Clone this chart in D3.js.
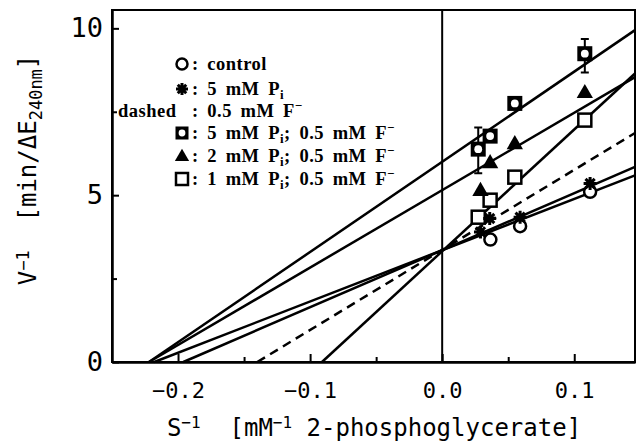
<!DOCTYPE html>
<html>
<head>
<meta charset="utf-8">
<script src="https://cdn.jsdelivr.net/npm/d3@7"></script>
<style>
  body { margin: 0; background: #fff; }
  svg { display: block; }
  text { white-space: pre; }
  .mono { font-family: "DejaVu Sans Mono", monospace; }
  .legend text { font-family: "Liberation Serif", "Times New Roman", serif; font-weight: bold; font-size: 18.5px; letter-spacing: 0.5px; word-spacing: 3.5px; }
</style>
</head>
<body>
<svg></svg>
<script>
// reciprocal substrate (1/S) and reciprocal velocity (1/V) for each series
let ctrlS = [0.0365, 0.059, 0.112];
let ctrlV = [3.67, 4.07, 5.1];
let pi5S = [0.029, 0.036, 0.059, 0.112];
let pi5V = [3.9, 4.3, 4.34, 5.35];
let pi5fS = [0.0273, 0.0363, 0.055, 0.108];
let pi5fV = [6.38, 6.77, 7.75, 9.24];
let pi5fLow = [5.66, null, null, 8.68];
let pi5fHigh = [7.03, null, null, 9.68];
let pi2fS = [0.029, 0.0363, 0.055, 0.108];
let pi2fV = [5.15, 5.98, 6.55, 8.08];
let pi1fS = [0.0273, 0.0363, 0.055, 0.108];
let pi1fV = [4.34, 4.85, 5.54, 7.25];

// fitted lines: x-intercept (V^-1 = 0) and y-intercept (S^-1 = 0)
let fitNames = ["control", "5 mM Pi", "0.5 mM F", "5 mM Pi; F", "2 mM Pi; F", "1 mM Pi; F"];
let fitXInt = [-0.218, -0.196, -0.14, -0.222, -0.222, -0.091];
let fitYInt = [3.35, 3.35, 3.36, 6.0, 5.15, 3.32];
let fitDashed = [false, false, true, false, false, false];

let xMajor = [-0.2, -0.1, 0.0, 0.1];
let xMinor = [-0.15, -0.05, 0.05];
let yMajor = [0, 5, 10];
let yMinor = [2.5, 7.5];

let width = 643;
let height = 443;
let padLeft = 112, padRight = 635, padTop = 10, padBottom = 362;

let svg = d3.select("svg")
    .attr("width", width)
    .attr("height", height);

let xScale = d3.scaleLinear()
    .domain([-0.25, 0.146])
    .range([padLeft, padRight]);

let yScale = d3.scaleLinear()
    .domain([0, 10.55])
    .range([padBottom, padTop]);

// frame
svg.append("rect")
    .attr("x", padLeft)
    .attr("y", padTop)
    .attr("width", padRight - padLeft)
    .attr("height", padBottom - padTop)
    .attr("fill", "none")
    .attr("stroke", "#000")
    .attr("stroke-width", 2);

// vertical line at S^-1 = 0
svg.append("line")
    .attr("x1", xScale(0)).attr("x2", xScale(0))
    .attr("y1", yScale(0)).attr("y2", padTop)
    .attr("stroke", "#000")
    .attr("stroke-width", 2);

// axes, ticks pointing inward
let xAxis = d3.axisBottom(xScale)
    .tickValues(xMajor)
    .tickSize(-8)
    .tickSizeOuter(0)
    .tickPadding(20)
    .tickFormat(d3.format(".1f"));
let xAxisMinor = d3.axisBottom(xScale)
    .tickValues(xMinor)
    .tickSize(-5)
    .tickSizeOuter(0)
    .tickFormat("");
let yAxis = d3.axisLeft(yScale)
    .tickValues(yMajor)
    .tickSize(-7)
    .tickSizeOuter(0)
    .tickPadding(9);
let yAxisMinor = d3.axisLeft(yScale)
    .tickValues(yMinor)
    .tickSize(-5)
    .tickSizeOuter(0)
    .tickFormat("");

function styleAxis(g, size) {
    g.select(".domain").attr("stroke-width", 2);
    g.selectAll(".tick line").attr("stroke-width", 2);
    g.selectAll(".tick text")
        .attr("class", "mono")
        .attr("fill", "#000")
        .style("font-size", size + "px");
}

svg.append("g")
    .attr("transform", "translate(0, " + padBottom + ")")
    .call(xAxis)
    .call(g => styleAxis(g, 22));
svg.append("g")
    .attr("transform", "translate(0, " + padBottom + ")")
    .call(xAxisMinor)
    .call(g => styleAxis(g, 22));
svg.append("g")
    .attr("transform", "translate(" + padLeft + ", 0)")
    .call(yAxis)
    .call(g => styleAxis(g, 27));
svg.append("g")
    .attr("transform", "translate(" + padLeft + ", 0)")
    .call(yAxisMinor)
    .call(g => styleAxis(g, 27));

// axis titles
let xTitle = svg.append("text")
    .attr("class", "mono")
    .attr("x", 374)
    .attr("y", 436)
    .attr("text-anchor", "middle")
    .style("font-size", "24px");
xTitle.append("tspan").text("S");
xTitle.append("tspan").attr("dy", -8).style("font-size", "16px").text("−1");
xTitle.append("tspan").attr("dy", 8).text("  [mM");
xTitle.append("tspan").attr("dy", -8).style("font-size", "16px").text("−1");
xTitle.append("tspan").attr("dy", 8).text(" 2-phosphoglycerate]");

let yTitle = svg.append("text")
    .attr("class", "mono")
    .attr("transform", "translate(36, 170) rotate(-90)")
    .attr("text-anchor", "middle")
    .style("font-size", "24px");
yTitle.append("tspan").text("V");
yTitle.append("tspan").attr("dy", -7).style("font-size", "17px").text("−1");
yTitle.append("tspan").attr("dy", 7).text("  [min/ΔE");
yTitle.append("tspan").attr("dy", 6).style("font-size", "17px").text("240nm");
yTitle.append("tspan").attr("dy", -6).text("]");

// fitted lines, from the x-intercept to the right edge of the frame
let xEnd = xScale.domain()[1];
let fits = fitNames.map((name, i) => {
    let slope = fitYInt[i] / -fitXInt[i];
    return {
        name: name,
        dashed: fitDashed[i],
        pts: [[fitXInt[i], 0], [xEnd, fitYInt[i] + slope * xEnd]]
    };
});
let line = d3.line()
    .x(d => xScale(d[0]))
    .y(d => yScale(d[1]));
svg.append("g")
    .selectAll("path")
    .data(fits)
    .enter()
    .append("path")
    .attr("d", d => line(d.pts))
    .attr("fill", "none")
    .attr("stroke", "#000")
    .attr("stroke-width", 2.5)
    .attr("stroke-dasharray", d => d.dashed ? "9,6" : null);

// marker shapes
let asterisk = {
    draw(ctx, size) {
        let r = Math.sqrt(size) / 2;
        for (let k = 0; k < 4; k++) {
            let a = k * Math.PI / 4;
            ctx.moveTo(-r * Math.cos(a), -r * Math.sin(a));
            ctx.lineTo(r * Math.cos(a), r * Math.sin(a));
        }
    }
};

function drawCircle(g, x, y, r) {
    g.append("circle").attr("cx", x).attr("cy", y).attr("r", r)
        .attr("fill", "#fff").attr("stroke", "#000").attr("stroke-width", 2.5);
}
function drawStar(g, x, y, s) {
    g.append("path").attr("d", d3.symbol(asterisk, s * s)())
        .attr("transform", "translate(" + x + "," + y + ")")
        .attr("stroke", "#000").attr("stroke-width", 3);
}
function drawDotSquare(g, x, y, s) {
    g.append("rect").attr("x", x - s / 2).attr("y", y - s / 2)
        .attr("width", s).attr("height", s).attr("fill", "#000");
    g.append("circle").attr("cx", x).attr("cy", y).attr("r", s * 0.26).attr("fill", "#fff");
}
function drawTriangle(g, x, y, s) {
    g.append("path")
        .attr("d", d3.symbol(d3.symbolTriangle, s * s * 0.45)())
        .attr("transform", "translate(" + x + "," + (y + 1) + ")")
        .attr("fill", "#000");
}
function drawSquare(g, x, y, s) {
    g.append("rect").attr("x", x - s / 2).attr("y", y - s / 2)
        .attr("width", s).attr("height", s)
        .attr("fill", "#fff").attr("stroke", "#000").attr("stroke-width", 2.5);
}

let marks = svg.append("g");

// error bars
pi5fS.forEach((s, i) => {
    if (pi5fLow[i] == null) return;
    let x = xScale(s);
    marks.append("path")
        .attr("d", "M" + x + "," + yScale(pi5fLow[i]) + "V" + yScale(pi5fHigh[i]) +
            "M" + (x - 4) + "," + yScale(pi5fLow[i]) + "H" + (x + 4) +
            "M" + (x - 4) + "," + yScale(pi5fHigh[i]) + "H" + (x + 4))
        .attr("stroke", "#000").attr("stroke-width", 2);
});

pi1fS.forEach((s, i) => drawSquare(marks, xScale(s), yScale(pi1fV[i]), 13));
pi2fS.forEach((s, i) => drawTriangle(marks, xScale(s), yScale(pi2fV[i]), 16));
pi5fS.forEach((s, i) => drawDotSquare(marks, xScale(s), yScale(pi5fV[i]), 15));
ctrlS.forEach((s, i) => drawCircle(marks, xScale(s), yScale(ctrlV[i]), 6));
pi5S.forEach((s, i) => drawStar(marks, xScale(s), yScale(pi5V[i]), 13));

// legend
let legend = svg.append("g").attr("class", "legend");
let rowY = [64, 89, 111, 133, 156, 179];
drawCircle(legend, 182, rowY[0], 5.5);
drawStar(legend, 182, rowY[1], 12);
drawDotSquare(legend, 182, rowY[3], 13);
drawTriangle(legend, 182, rowY[4], 14);
drawSquare(legend, 182, rowY[5], 12);

function legendText(y, x, parts) {
    let t = legend.append("text").attr("x", x).attr("y", y + 6);
    parts.forEach(p => {
        let sp = t.append("tspan").text(p[0]);
        if (p[1] === "sub") sp.attr("dy", 4).style("font-size", "13px");
        if (p[1] === "sup") sp.attr("dy", -7).style("font-size", "13px");
        if (p[1] === "back") sp.attr("dy", p[2]);
    });
    return t;
}
legendText(rowY[0], 192, [[": control"]]);
legendText(rowY[1], 192, [[": 5 mM P"], ["i", "sub"]]);
legend.append("text").attr("x", 118).attr("y", rowY[2] + 6).text("dashed");
legendText(rowY[2], 192, [[": 0.5 mM F"], ["−", "sup"]]);
legendText(rowY[3], 192, [[": 5 mM P"], ["i", "sub"], ["; 0.5 mM F", "back", -4], ["−", "sup"]]);
legendText(rowY[4], 192, [[": 2 mM P"], ["i", "sub"], ["; 0.5 mM F", "back", -4], ["−", "sup"]]);
legendText(rowY[5], 192, [[": 1 mM P"], ["i", "sub"], ["; 0.5 mM F", "back", -4], ["−", "sup"]]);
</script>
</body>
</html>
